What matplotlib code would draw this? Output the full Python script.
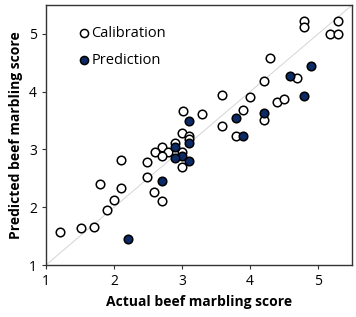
import matplotlib
matplotlib.use("Agg")
import matplotlib.pyplot as plt

plt.rcParams["font.family"] = ["Open Sans", "DejaVu Sans"]

cal_actual = [4.80, 4.80, 5.29, 5.18, 5.30, 4.30, 4.20, 4.69, 3.59, 4.00,
              4.39, 4.50, 3.89, 3.01, 3.30, 4.20, 3.59, 3.80, 3.00, 3.11,
              3.11, 2.90, 2.70, 2.61, 2.80, 3.00, 2.70, 3.00, 2.10, 2.49,
              2.49, 1.80, 2.10, 2.59, 2.00, 2.70, 1.90, 1.21, 1.51, 1.70]
cal_pred = [5.22, 5.12, 5.22, 5.00, 5.00, 4.59, 4.18, 4.24, 3.95, 3.91,
            3.82, 3.88, 3.69, 3.66, 3.62, 3.51, 3.41, 3.24, 3.29, 3.24,
            3.18, 3.12, 3.04, 2.95, 2.96, 2.96, 2.88, 2.69, 2.81, 2.79,
            2.53, 2.40, 2.33, 2.27, 2.13, 2.10, 1.95, 1.58, 1.64, 1.65]

pred_actual = [4.90, 4.59, 4.80, 3.11, 3.80, 4.20, 3.89, 3.11, 2.90, 3.00,
               2.90, 3.11, 2.70, 2.20]
pred_pred = [4.45, 4.28, 3.92, 3.50, 3.54, 3.64, 3.24, 3.11, 3.04, 2.89,
             2.85, 2.80, 2.46, 1.45]

ticks = [1, 2, 3, 4, 5]
lim = (1, 5.5)

fig = plt.figure(figsize=(3.56, 3.17), dpi=100)
ax = fig.add_axes([0.129, 0.164, 0.86, 0.82])

ax.plot(lim, lim, color="#d4d4d4", lw=0.7, zorder=1)
ax.scatter(cal_actual, cal_pred, s=38, facecolor="white", edgecolor="black",
           linewidth=1.1, label="Calibration", zorder=2)
ax.scatter(pred_actual, pred_pred, s=38, facecolor="#0b2a66", edgecolor="black",
           linewidth=1.1, label="Prediction", zorder=3)

ax.set_xlim(lim)
ax.set_ylim(lim)
ax.set_xticks(ticks)
ax.set_yticks(ticks)
ax.tick_params(direction="out", length=3, labelsize=10, color="#333333")
for sp in ax.spines.values():
    sp.set_color("#333333")
    sp.set_linewidth(1.0)

ax.set_xlabel("Actual beef marbling score", fontsize=10, fontweight="bold")
ax.set_ylabel("Predicted beef marbling score", fontsize=10, fontweight="bold")

ax.legend(loc="upper left", frameon=False, fontsize=10.5, handletextpad=0.15,
          borderaxespad=0, borderpad=0, labelspacing=0.85, handlelength=0.7,
          markerscale=0.95, bbox_to_anchor=(0.108, 0.92))

fig.savefig("out.png", dpi=100)
